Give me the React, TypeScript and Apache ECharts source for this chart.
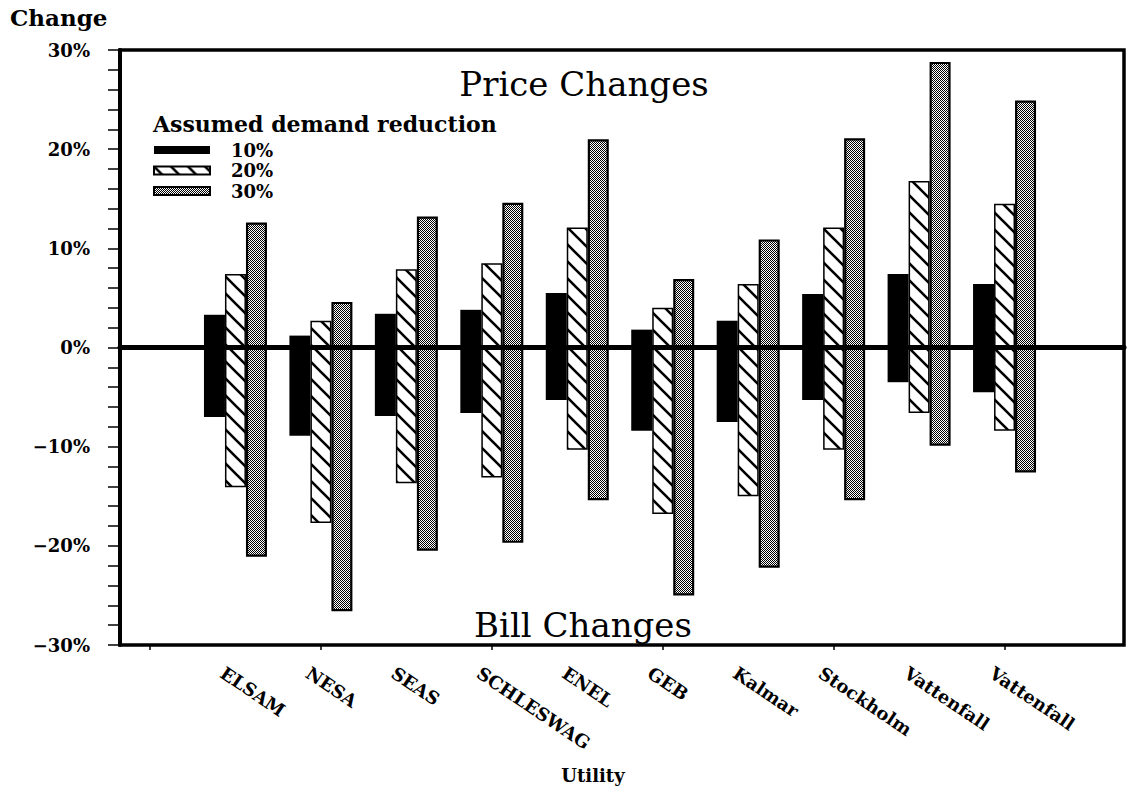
import React, { useEffect, useRef } from "react";
import * as echarts from "echarts";

const categories = ["ELSAM", "NESA", "SEAS", "SCHLESWAG", "ENEL", "GEB", "Kalmar", "Stockholm", "Vattenfall", "Vattenfall"];
const levels = ["10%", "20%", "30%"];
const price10 = [3.3, 1.2, 3.4, 3.8, 5.5, 1.8, 2.7, 5.4, 7.4, 6.4];
const price20 = [7.4, 2.7, 7.9, 8.5, 12.1, 4.0, 6.4, 12.1, 16.8, 14.5];
const price30 = [12.6, 4.6, 13.2, 14.6, 21.0, 6.9, 10.9, 21.1, 28.8, 24.9];
const bill10 = [-7.0, -8.9, -6.9, -6.6, -5.3, -8.4, -7.5, -5.3, -3.5, -4.5];
const bill20 = [-14.1, -17.7, -13.7, -13.1, -10.3, -16.8, -15.0, -10.3, -6.6, -8.4];
const bill30 = [-21.1, -26.6, -20.5, -19.7, -15.4, -25.0, -22.2, -15.4, -9.9, -12.6];
const yMin = -30;
const yMax = 30;
const yStep = 10;

const SERIF = "DejaVu Serif";

function makeHatch(s: number) {
  const c = document.createElement("canvas");
  c.width = s;
  c.height = s;
  const g = c.getContext("2d")!;
  g.fillStyle = "#fff";
  g.fillRect(0, 0, s, s);
  g.strokeStyle = "#000";
  g.lineWidth = 2.6;
  g.beginPath();
  for (const o of [-s, 0, s]) {
    g.moveTo(o - 2, -2);
    g.lineTo(o + s + 2, s + 2);
  }
  g.stroke();
  return c;
}

function makeDots(s: number) {
  const c = document.createElement("canvas");
  c.width = s;
  c.height = s;
  const g = c.getContext("2d")!;
  g.fillStyle = "#fff";
  g.fillRect(0, 0, s, s);
  g.fillStyle = "#000";
  for (let y = 0; y < s; y++) {
    for (let x = 0; x < s; x++) {
      if ((x + y) % 2 === 0) g.fillRect(x, y, 1, 1);
    }
  }
  return c;
}

export default function App() {
  const ref = useRef<HTMLDivElement>(null);
  useEffect(() => {
    if (!ref.current) return;
    document.body.style.margin = "0";
    const chart = echarts.init(ref.current, null, { renderer: "svg" });
    const hs = 17;
    const ds = 4;
    const hatch = makeHatch(hs);
    const dots = makeDots(ds);
    const fills: any[] = [
      "#000",
      { image: hatch, repeat: "repeat", imageWidth: hs, imageHeight: hs },
      { image: dots, repeat: "repeat", imageWidth: ds, imageHeight: ds },
    ];
    const borders = [0, 1.5, 2.2];
    const pos = [price10, price20, price30];
    const neg = [bill10, bill20, bill30];
    const padded = ["", ...categories, ""];

    const series: any[] = [];
    levels.forEach((lv, i) => {
      [pos[i], neg[i]].forEach((arr) => {
        series.push({
          type: "bar",
          name: lv,
          stack: "s" + i,
          xAxisIndex: 1,
          yAxisIndex: 1,
          barWidth: 21,
          barGap: "0%",
          data: [null, ...arr, null],
          itemStyle: { color: fills[i], borderColor: "#000", borderWidth: borders[i] },
          emphasis: { disabled: true },
          z: 2,
        });
      });
    });

    const option: any = {
      animation: false,
      backgroundColor: "#fff",
      grid: [
        { left: 120, top: 50, width: 1004, height: 595, show: true, borderColor: "#000", borderWidth: 3.5, backgroundColor: "transparent" },
        { left: 150, top: 50, width: 940, height: 595 },
        { left: 137, top: 50, width: 940, height: 595 },
      ],
      xAxis: [
        {
          gridIndex: 0,
          type: "value",
          min: 0,
          max: 1,
          z: 5,
          axisLine: { show: true, onZero: true, lineStyle: { color: "#000", width: 5 } },
          axisTick: { show: false },
          axisLabel: { show: false },
          splitLine: { show: false },
        },
        {
          gridIndex: 1,
          type: "category",
          data: padded,
          boundaryGap: false,
          axisLine: { show: false, onZero: false },
          axisTick: { show: true, length: 5, lineStyle: { color: "#000", width: 1.5 } },
          axisLabel: { show: false },
          splitLine: { show: false },
        },
        {
          gridIndex: 2,
          type: "category",
          data: padded,
          boundaryGap: false,
          axisLine: { show: false, onZero: false },
          axisTick: { show: false },
          axisLabel: {
            show: true,
            interval: 0,
            rotate: -34,
            margin: 26,
            color: "#000",
            fontFamily: SERIF,
            fontWeight: "bold",
            fontSize: 18,
          },
          splitLine: { show: false },
        },
      ],
      yAxis: [
        {
          gridIndex: 0,
          type: "value",
          min: yMin,
          max: yMax,
          interval: yStep,
          axisLine: { show: true, lineStyle: { color: "#000", width: 4 } },
          axisTick: { show: true, length: 12, lineStyle: { color: "#000", width: 1.5 } },
          minorTick: { show: true, splitNumber: 5, length: 12, lineStyle: { color: "#000", width: 1.5 } },
          splitLine: { show: false },
          axisLabel: {
            margin: 30,
            color: "#000",
            fontFamily: SERIF,
            fontWeight: "bold",
            fontSize: 18,
            formatter: (v: number) => (v < 0 ? "\u2212" + Math.abs(v) : String(v)) + "%",
          },
        },
        { gridIndex: 1, type: "value", min: yMin, max: yMax, show: false, splitLine: { show: false } },
        { gridIndex: 2, type: "value", min: yMin, max: yMax, show: false, splitLine: { show: false } },
      ],
      legend: {
        data: levels,
        orient: "vertical",
        left: 148,
        top: 136,
        icon: "rect",
        itemWidth: 56,
        itemHeight: 8,
        itemGap: 2.5,
        selectedMode: false,
        textStyle: { color: "#000", fontFamily: SERIF, fontWeight: "bold", fontSize: 18, padding: [0, 0, 0, 16] },
      },
      graphic: [
        { type: "text", x: 10, y: 17, style: { text: "Change", fill: "#000", font: `bold 23px "${SERIF}"`, textVerticalAlign: "middle" } },
        { type: "text", x: 584, y: 84, style: { text: "Price Changes", fill: "#000", font: `34px "${SERIF}"`, textAlign: "center", textVerticalAlign: "middle" } },
        { type: "text", x: 583, y: 625, style: { text: "Bill Changes", fill: "#000", font: `34px "${SERIF}"`, textAlign: "center", textVerticalAlign: "middle" } },
        { type: "text", x: 153, y: 124, style: { text: "Assumed demand reduction", fill: "#000", font: `bold 22px "${SERIF}"`, textVerticalAlign: "middle" } },
        { type: "text", x: 593, y: 775, style: { text: "Utility", fill: "#000", font: `bold 18px "${SERIF}"`, textAlign: "center", textVerticalAlign: "middle" } },
      ],
      series,
    };
    chart.setOption(option);
    return () => chart.dispose();
  }, []);
  return <div ref={ref} style={{ position: "absolute", left: 0, top: 0, width: 1127, height: 790 }} />;
}
